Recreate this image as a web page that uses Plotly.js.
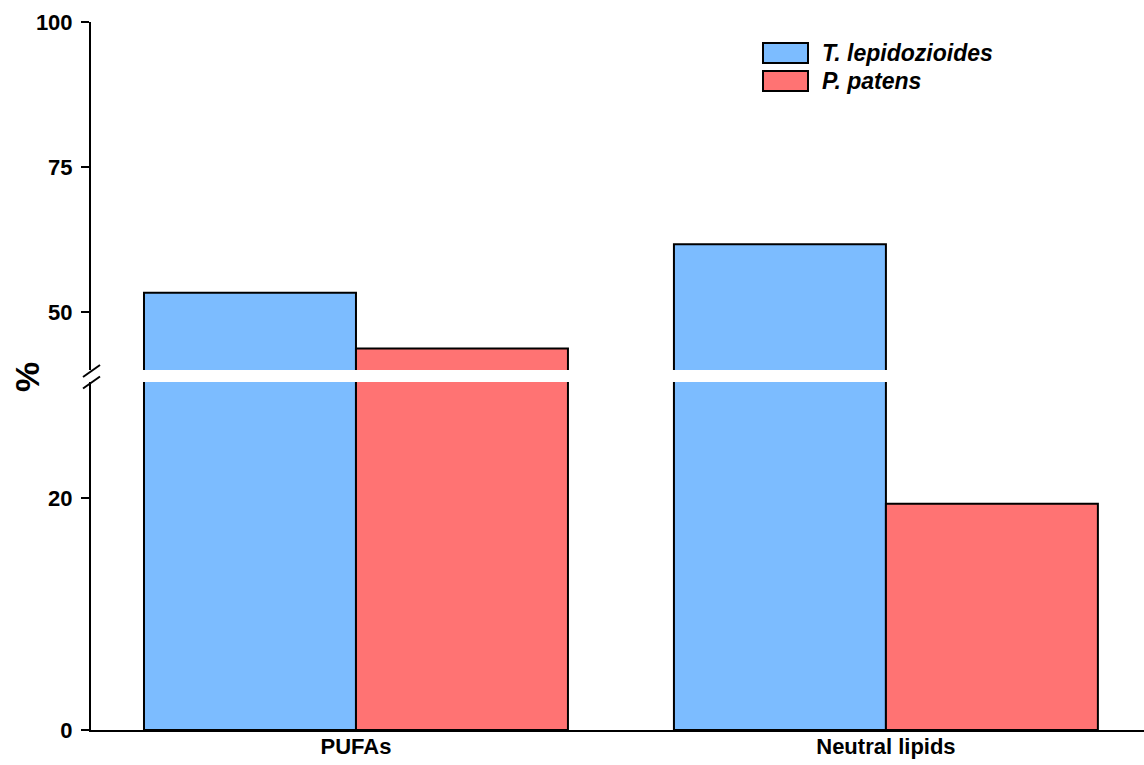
<!DOCTYPE html>
<html>
<head>
<meta charset="utf-8">
<script src="https://cdn.plot.ly/plotly-3.0.1.min.js"></script>
<style>html,body{margin:0;padding:0;background:#fff;}#chart{width:1144px;height:765px;}</style>
</head>
<body>
<div id="chart"></div>
<script>
// ---- data ----
var categories = ['PUFAs', 'Neutral lipids'];
var tLepidozioides = [53.3, 61.7];
var pPatens = [43.7, 19.5];
var seriesNames = ['T. lepidozioides', 'P. patens'];
var lowerTicks = [0, 20];
var upperTicks = [50, 75, 100];

var blue = '#7CBCFF';
var red = '#FF7373';
var FONT = 'Liberation Sans, Arial, Helvetica, sans-serif';

function bar(y, color, name, yaxis) {
  return {
    type: 'bar', x: categories, y: y, name: name, yaxis: yaxis, xaxis: 'x',
    marker: {color: color, line: {color: '#000', width: 2}},
    showlegend: false, hoverinfo: 'skip'
  };
}

var data = [
  bar(tLepidozioides, blue, seriesNames[0], 'y'),
  bar(pPatens, red, seriesNames[1], 'y'),
  bar(tLepidozioides, blue, seriesNames[0], 'y2'),
  bar(pPatens, red, seriesNames[1], 'y2')
];

// plot area: left 91px, top 22px, bottom 730px, width 1053, height 708
function px(x) { return (x - 91) / 1053; }
function py(y) { return (730 - y) / 708; }

var yCommon = {
  showline: true, linecolor: '#000', linewidth: 2,
  ticks: 'outside', ticklen: 8, tickwidth: 2, tickcolor: '#000',
  showgrid: false, zeroline: false, tickmode: 'array',
  tickfont: {family: FONT, size: 22, color: '#000', weight: 'bold'},
  ticklabelstandoff: 4, anchor: 'x'
};

var layout = {
  width: 1144, height: 765,
  margin: {l: 91, r: 0, t: 22, b: 35, pad: 0},
  paper_bgcolor: '#fff', plot_bgcolor: '#fff',
  barmode: 'group', bargap: 0.2, bargroupgap: 0,
  showlegend: false,
  xaxis: {
    type: 'category', range: [-0.5, 1.487], anchor: 'y',
    showline: true, linecolor: '#000', linewidth: 2,
    ticks: '', showgrid: false, zeroline: false,
    tickfont: {family: FONT, size: 22, color: '#000', weight: 'bold'},
    ticklabelstandoff: -4
  },
  yaxis: Object.assign({}, yCommon, {range: [0, 30], domain: [0, py(382)], tickvals: lowerTicks}),
  yaxis2: Object.assign({}, yCommon, {range: [40, 100], domain: [py(370), 1], tickvals: upperTicks}),
  shapes: [
    // axis break marks
    {type: 'line', xref: 'paper', yref: 'paper', x0: px(83), y0: py(377), x1: px(100), y1: py(365), line: {color: '#000', width: 2}},
    {type: 'line', xref: 'paper', yref: 'paper', x0: px(83), y0: py(388.5), x1: px(100), y1: py(376.5), line: {color: '#000', width: 2}},
    // legend swatches
    {type: 'rect', xref: 'paper', yref: 'paper', x0: px(763), x1: px(808), y0: py(63), y1: py(43), fillcolor: blue, line: {color: '#000', width: 2}},
    {type: 'rect', xref: 'paper', yref: 'paper', x0: px(763), x1: px(808), y0: py(91), y1: py(71), fillcolor: red, line: {color: '#000', width: 2}}
  ],
  annotations: [
    {xref: 'paper', yref: 'paper', x: px(820), y: py(53), xanchor: 'left', yanchor: 'middle', showarrow: false,
     text: seriesNames[0], font: {family: FONT, size: 23, color: '#000', weight: 'bold', style: 'italic'}},
    {xref: 'paper', yref: 'paper', x: px(820), y: py(81), xanchor: 'left', yanchor: 'middle', showarrow: false,
     text: seriesNames[1], font: {family: FONT, size: 23, color: '#000', weight: 'bold', style: 'italic'}},
    {xref: 'paper', yref: 'paper', x: px(27), y: py(377), xanchor: 'center', yanchor: 'middle', showarrow: false,
     textangle: -90, text: '%', font: {family: FONT, size: 34, color: '#000', weight: 'bold'}}
  ]
};

Plotly.newPlot('chart', data, layout, {staticPlot: true, displayModeBar: false});
</script>
</body>
</html>
